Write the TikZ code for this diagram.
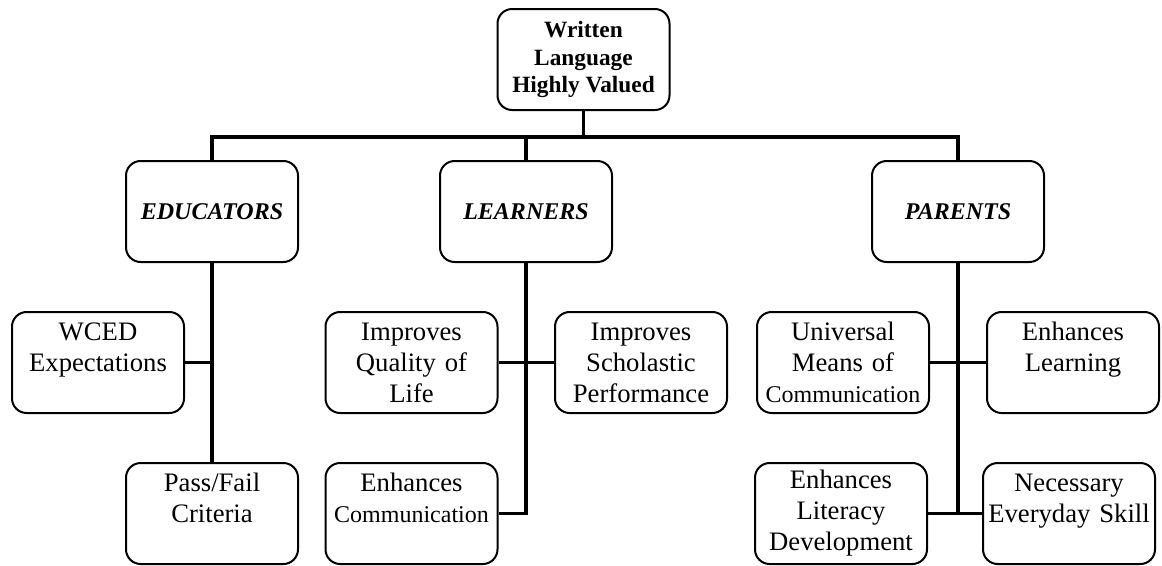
\documentclass[tikz,border=0pt]{standalone}
\usepackage{fontspec}
\setmainfont{Liberation Serif}
\newcommand\commfont{\fontsize{18}{23.25}\selectfont}
\begin{document}
\begin{tikzpicture}[x = 0.75pt, y = -0.75pt,
  box/.style = {draw = black, line width = 1.5pt, rounded corners = 11pt, minimum width = 129pt, minimum height = 75.75pt, inner sep = 2.5pt},
  head/.style = {box, align = center, font = \fontsize{17.5}{20.8}\selectfont\bfseries},
  group/.style = {box, font = \fontsize{18}{21}\selectfont\bfseries\itshape},
  leaf/.style = {box, text width = 124pt, align = center, font = \fontsize{20}{23.25}\selectfont},
  link/.style = {draw = black, line width = 2.5pt}]
\useasboundingbox (0,0) rectangle (1162,565);
\node[head] (top) at (583.5,59.5) {Written\\Language\\Highly Valued};
\node[group] (educ) at (212,211.5) {EDUCATORS};
\node[group] (learn) at (526,211.5) {LEARNERS};
\node[group] (parents) at (958,211.5) {PARENTS};
\node[leaf] (wced) at (98,362.5) {WCED\\Expectations\\\mbox{}};
\node[leaf] (pass) at (212,513.5) {Pass/Fail\\Criteria\\\mbox{}};
\node[leaf] (quality) at (411.5,362.5) {Improves\\Quality of\\Life};
\node[leaf] (scholastic) at (641,362.5) {Improves\\Scholastic\\Performance};
\node[leaf] (ecomm) at (411.5,513.5) {Enhances\\{\commfont Communication}\\\mbox{}};
\node[leaf] (universal) at (843,362.5) {Universal\\Means of\\{\commfont Communication}};
\node[leaf] (elearning) at (1073,362.5) {Enhances\\Learning\\\mbox{}};
\node[leaf] (literacy) at (841,513.5) {Enhances\\Literacy\\Development};
\node[leaf] (necessary) at (1069,513.5) {Necessary\\Everyday Skill\\\mbox{}};
\coordinate (bus) at (583.5,137);
\draw[link] (top) -- (bus);
\draw[link] (educ) |- (bus) -| (parents);
\draw[link] (learn) -- (learn |- bus);
\draw[link] (educ) -- (pass);
\draw[link] (wced) -- (wced -| educ);
\draw[link] (learn) |- (ecomm);
\draw[link] (quality) -- (scholastic);
\draw[link] (parents) |- (literacy);
\draw[link] (literacy) -- (necessary);
\draw[link] (universal) -- (elearning);
\end{tikzpicture}
\end{document}
